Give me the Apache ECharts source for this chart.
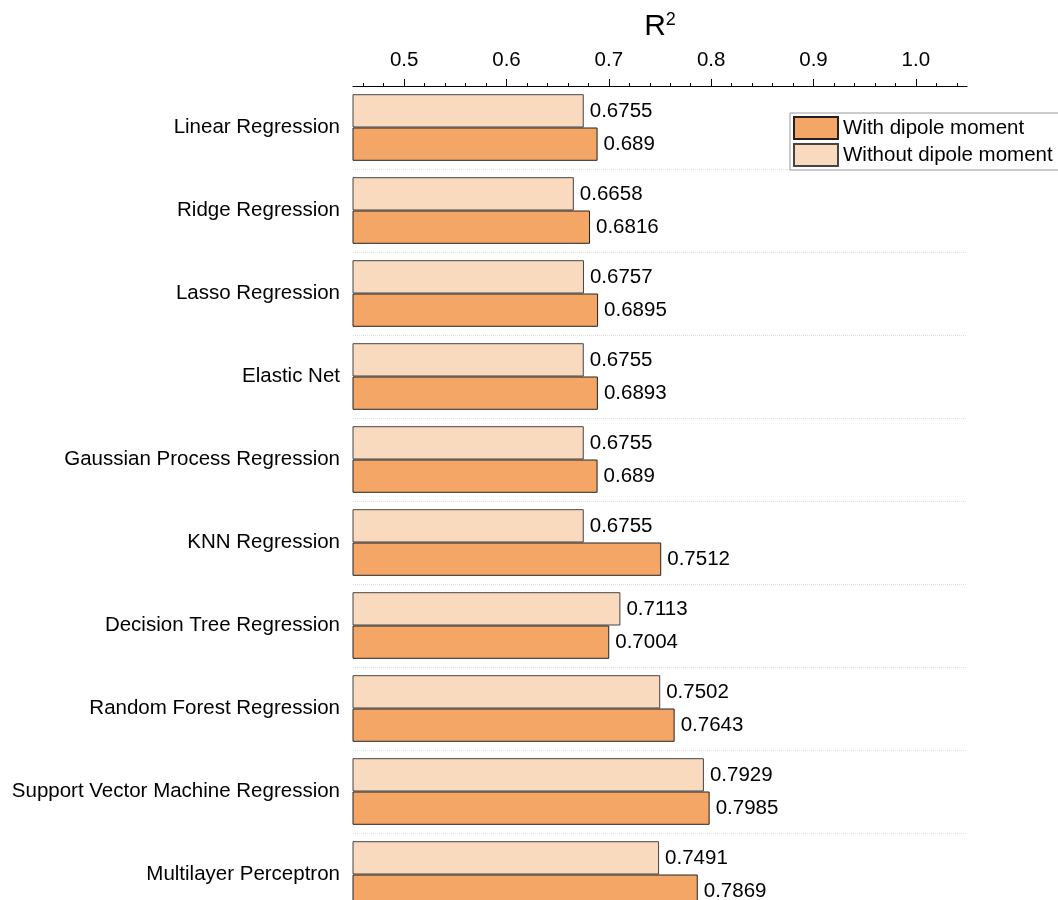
<!DOCTYPE html>
<html>
<head>
<meta charset="utf-8">
<script src="https://cdn.jsdelivr.net/npm/echarts@6/dist/echarts.min.js"></script>
<style>html,body{margin:0;padding:0;background:#fff}#c{width:1058px;height:900px}</style>
</head>
<body>
<div id="c"></div>
<script>
const categories = ['Linear Regression','Ridge Regression','Lasso Regression','Elastic Net','Gaussian Process Regression','KNN Regression','Decision Tree Regression','Random Forest Regression','Support Vector Machine Regression','Multilayer Perceptron'];
const withoutDipole = [0.6755, 0.6658, 0.6757, 0.6755, 0.6755, 0.6755, 0.7113, 0.7502, 0.7929, 0.7491];
const withDipole = [0.689, 0.6816, 0.6895, 0.6893, 0.689, 0.7512, 0.7004, 0.7643, 0.7985, 0.7869];
const majorTicks = [0.5, 0.6, 0.7, 0.8, 0.9, 1.0];
const minorTicks = [0.46,0.48,0.52,0.54,0.56,0.58,0.62,0.64,0.66,0.68,0.72,0.74,0.76,0.78,0.82,0.84,0.86,0.88,0.92,0.94,0.96,0.98,1.02,1.04];

const font = 'Liberation Sans, Arial, sans-serif';
const chart = echarts.init(document.getElementById('c'), null, {renderer:'canvas'});
chart.setOption({
  animation: false,
  backgroundColor: '#fff',
  textStyle: {fontFamily: font},
  grid: {left: 353, right: 91, top: 86, height: 830, containLabel: false, outerBoundsMode: 'none'},
  legend: {
    orient: 'vertical', left: 790, top: 113,
    data: ['With dipole moment','Without dipole moment'],
    itemWidth: 44, itemHeight: 22, itemGap: 3,
    padding: [3, 40, 3, 3],
    borderColor: '#999', borderWidth: 1, backgroundColor: '#fff',
    icon: 'rect',
    textStyle: {fontSize: 20.5, color: '#000', fontFamily: font}
  },
  xAxis: [{
    type: 'value', position: 'top', min: 0.45, max: 1.05,
    name: '{r|R}{s|2}', nameLocation: 'middle', nameGap: 43,
    nameTextStyle: {color: '#000', fontFamily: font,
      rich: {
        r: {fontSize: 30, color: '#000', fontFamily: font},
        s: {fontSize: 18, color: '#000', fontFamily: font, padding: [0, 0, 14, 0]}
      }},
    axisLine: {show: true, lineStyle: {color: '#000', width: 1}},
    axisTick: {show: true, customValues: majorTicks, length: 7, lineStyle: {color: '#000'}},
    axisLabel: {customValues: majorTicks, fontSize: 20.5, color: '#000', margin: 15, fontFamily: font,
      formatter: v => v.toFixed(1)},
    splitLine: {show: false}
  }, {
    type: 'value', position: 'top', min: 0.45, max: 1.05,
    axisLine: {show: false},
    axisTick: {show: true, customValues: minorTicks, length: 3, lineStyle: {color: '#000'}},
    axisLabel: {show: false},
    splitLine: {show: false}
  }],
  yAxis: {
    type: 'category', inverse: true, data: categories,
    axisLine: {show: false}, axisTick: {show: false},
    axisLabel: {fontSize: 20.5, color: '#000', margin: 13, fontFamily: font},
    splitLine: {show: true, lineStyle: {color: '#ddd', type: 'dotted', width: 1}}
  },
  series: [{
    name: 'Without dipole moment', type: 'bar', data: withoutDipole,
    barWidth: 33.3, barGap: '0%',
    itemStyle: {color: '#FADABE', borderColor: '#444', borderWidth: 1},
    label: {show: true, position: 'right', distance: 6, fontSize: 20.5, color: '#000', fontFamily: font}
  }, {
    name: 'With dipole moment', type: 'bar', data: withDipole,
    barWidth: 33.3, barGap: '0%',
    itemStyle: {color: '#F3A665', borderColor: '#222', borderWidth: 1},
    label: {show: true, position: 'right', distance: 6, fontSize: 20.5, color: '#000', fontFamily: font}
  }]
});
</script>
</body>
</html>
